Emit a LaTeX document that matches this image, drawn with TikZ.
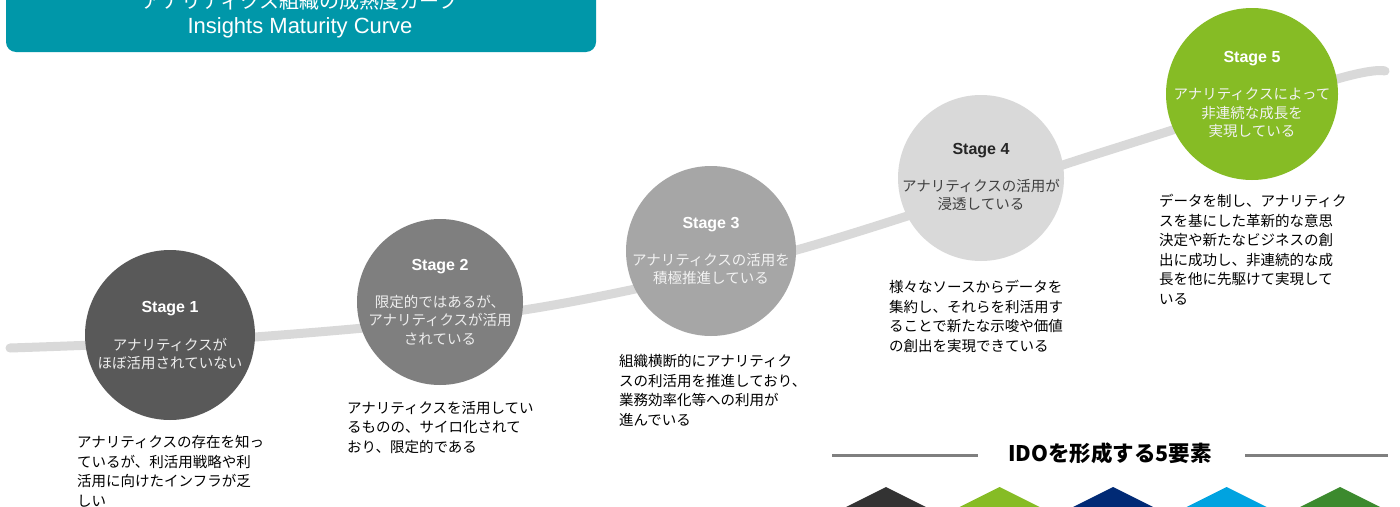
\documentclass[tikz,border=0pt]{standalone}
\usepackage{fontspec}
\setmainfont{Liberation Sans}
\newfontfamily\jp{Noto Sans CJK JP}
\definecolor{headteal}{HTML}{0097A9}
\definecolor{curvegray}{HTML}{D9D9D9}
\definecolor{stageone}{HTML}{595959}
\definecolor{stagetwo}{HTML}{7F7F7F}
\definecolor{stagethree}{HTML}{A6A6A6}
\definecolor{stagefour}{HTML}{D9D9D9}
\definecolor{stagefive}{HTML}{86BC25}
\definecolor{elemdark}{HTML}{333333}
\definecolor{elemnavy}{HTML}{012A75}
\definecolor{elemblue}{HTML}{00A3E0}
\definecolor{elemgreen}{HTML}{3C8A2E}
\begin{document}
\begin{tikzpicture}[x=1pt, y=-1pt,
	stagecircle/.style={circle, minimum size=170pt, inner sep=0pt},
	stagename/.style={inner sep=0pt, font=\bfseries\fontsize{16}{19}\selectfont},
	stagedesc/.style={align=center, inner sep=0pt, font=\jp\fontsize{14.5}{18.5}\selectfont},
	stagebody/.style={align=left, anchor=north west, inner sep=0pt, font=\jp\fontsize{14.5}{19.6}\selectfont}]
		\useasboundingbox (0,0) rectangle (1400,506);
		\clip (0,0) rectangle (1400,506);
		\fill[white] (0,0) rectangle (1400,506);
		% title
		\fill[headteal, rounded corners=10pt] (6,-30) rectangle (596,52);
		\node[white, font=\jp\fontsize{20}{24}\selectfont] (title) at (300,1) {アナリティクス組織の成熟度カーブ};
		\node[white, font=\fontsize{22}{26}\selectfont] (subtitle) at (300,28) {Insights Maturity Curve};
		% curve
		\draw[curvegray, line width=9pt, line cap=round] plot[smooth, tension=0.5] coordinates {(10,348) (255,337) (530,309) (793,251) (1100,153) (1337,79) (1385,71)};
		% circles
		\node[stagecircle, fill=stageone] (s1) at (170,335) {};
		\node[stagecircle, fill=stagetwo, minimum size=166pt] (s2) at (440,302) {};
		\node[stagecircle, fill=stagethree] (s3) at (711,251) {};
		\node[stagecircle, fill=stagefour, minimum size=166pt] (s4) at (981,178) {};
		\node[stagecircle, fill=stagefive, minimum size=172pt] (s5) at (1252,94) {};
		\node[stagename, white] (n1) at (170,309) {Stage 1};
		\node[stagename, white] (n2) at (440,267) {Stage 2};
		\node[stagename, white] (n3) at (711,225) {Stage 3};
		\node[stagename, black!85] (n4) at (981,151) {Stage 4};
		\node[stagename, white] (n5) at (1252,59) {Stage 5};
		\node[stagedesc, white!93!black] (d1) at (170,354) {アナリティクスが\\ほぼ活用されていない};
		\node[stagedesc, white!93!black] (d2) at (440,320) {限定的ではあるが、\\アナリティクスが活用\\されている};
		\node[stagedesc, white!95!black] (d3) at (711,269) {アナリティクスの活用を\\積極推進している};
		\node[stagedesc, black!75] (d4) at (981,195) {アナリティクスの活用が\\浸透している};
		\node[stagedesc, white!95!black] (d5) at (1252,113) {アナリティクスによって\\非連続な成長を\\実現している};
		% texts below
		\node[stagebody] (b1) at (77,435) {アナリティクスの存在を知っ\\ているが、利活用戦略や利\\活用に向けたインフラが乏\\しい};
		\node[stagebody] (b2) at (347,401) {アナリティクスを活用してい\\るものの、サイロ化されて\\おり、限定的である};
		\node[stagebody] (b3) at (619,354) {組織横断的にアナリティク\\スの利活用を推進しており、\\業務効率化等への利用が\\進んでいる};
		\node[stagebody] (b4) at (889,280) {様々なソースからデータを\\集約し、それらを利活用す\\ることで新たな示唆や価値\\の創出を実現できている};
		\node[stagebody] (b5) at (1159,194) {データを制し、アナリティク\\スを基にした革新的な意思\\決定や新たなビジネスの創\\出に成功し、非連続的な成\\長を他に先駆けて実現して\\いる};
		% five elements
		\node[font=\jp\bfseries\fontsize{21.5}{25}\selectfont] (ido) at (1110,453) {IDOを形成する5要素};
		\draw[stagetwo, line width=3pt] (832,455) -- (978,455);
		\draw[stagetwo, line width=3pt] (1245,455) -- (1388,455);
		\fill[elemdark] (886,487) -- (932,510) -- (840,510) -- cycle;
		\fill[stagefive] (999.5,487) -- (1045.5,510) -- (953.5,510) -- cycle;
		\fill[elemnavy] (1113,487) -- (1159,510) -- (1067,510) -- cycle;
		\fill[elemblue] (1226.5,487) -- (1272.5,510) -- (1180.5,510) -- cycle;
		\fill[elemgreen] (1340,487) -- (1386,510) -- (1294,510) -- cycle;
\end{tikzpicture}
\end{document}
